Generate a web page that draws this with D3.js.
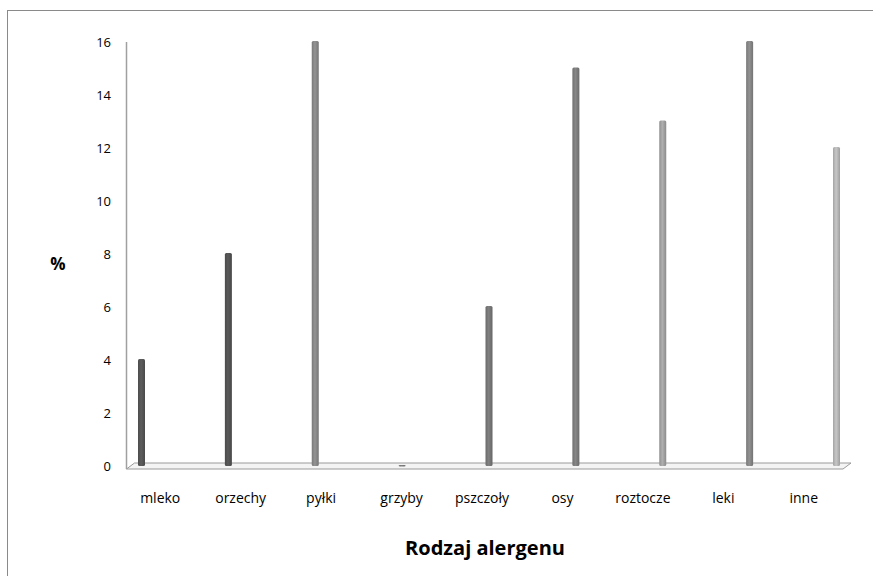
<!DOCTYPE html>
<html>
    <head>
        <title>Rodzaj alergenu</title>
        <meta charset="UTF-8">
        <script type="text/javascript" src="https://cdn.jsdelivr.net/npm/d3@7"></script>
        <style type="text/css">
            body { margin: 0; background: #fff; }
            text { font-family: "Open Sans", "DejaVu Sans", sans-serif; fill: #000; }
        </style>
    </head>
    <body>
        <div id="chart"></div>
        <script type="text/javascript">
            // categories and values (%)
            var categories = ["mleko", "orzechy", "pyłki", "grzyby", "pszczoły", "osy", "roztocze", "leki", "inne"];
            var values = [4, 8, 16, 0, 6, 15, 13, 16, 12];
            var barColors = ["#585858", "#555555", "#8c8c8c", "#7a7a7a", "#7a7a7a", "#808080", "#a6a6a6", "#8a8a8a", "#bdbdbd"];
            var yTicks = [0, 2, 4, 6, 8, 10, 12, 14, 16];

            var svgW = 873, svgH = 576;
            var depthX = 8;     // 3d floor offset

            var svg = d3.select("#chart").append("svg")
                    .attr("width", svgW)
                    .attr("height", svgH);

            // outer frame
            svg.append("rect")
                    .attr("x", 7.5).attr("y", 10.5)
                    .attr("width", 900).attr("height", 600)
                    .attr("fill", "none")
                    .attr("stroke", "#8a8a8a")
                    .attr("stroke-width", 1);

            var y = d3.scaleLinear().domain([0, 16]).range([466, 42]);
            // label band along the front edge
            var xLab = d3.scaleBand().domain(categories).range([120, 844]);
            // bar positions in the back plane
            var xBar = d3.scalePoint().domain(categories).range([141.5, 836.5]);

            // wall line
            svg.append("line")
                    .attr("x1", 126.5).attr("x2", 126.5)
                    .attr("y1", y(16)).attr("y2", y(0) + 3)
                    .attr("stroke", "#a0a0a0").attr("stroke-width", 1.5);

            // floor
            var fl = 126.5, fr = 851, fb = y(0) + 3, ft = y(0) - 3;
            svg.append("polygon")
                    .attr("points", [[fl, fb], [fl + depthX, ft], [fr, ft], [fr - depthX, fb]].map(function (p) {
                        return p.join(",");
                    }).join(" "))
                    .attr("fill", "#f4f4f4")
                    .attr("stroke", "#9a9a9a")
                    .attr("stroke-width", 1);

            // y ticks
            svg.selectAll("text.ytick")
                    .data(yTicks)
                    .enter()
                    .append("text")
                    .attr("class", "ytick")
                    .attr("x", 111)
                    .attr("y", function (d) { return y(d); })
                    .attr("dy", "0.35em")
                    .attr("text-anchor", "end")
                    .style("font-size", "13px")
                    .text(function (d) { return d; });

            // bars as thin cylinders
            var bw = 7;
            var grad = svg.append("defs").selectAll("linearGradient")
                    .data(barColors)
                    .enter()
                    .append("linearGradient")
                    .attr("id", function (d, i) { return "g" + i; })
                    .attr("x1", "0%").attr("x2", "100%");
            grad.append("stop").attr("offset", "0%").attr("stop-color", function (d) { return d3.color(d).darker(0.4); });
            grad.append("stop").attr("offset", "45%").attr("stop-color", function (d) { return d3.color(d).brighter(0.15); });
            grad.append("stop").attr("offset", "100%").attr("stop-color", function (d) { return d3.color(d).darker(0.5); });

            svg.selectAll("rect.bar")
                    .data(values)
                    .enter()
                    .append("rect")
                    .attr("class", "bar")
                    .attr("x", function (d, i) { return xBar(categories[i]) - bw / 2; })
                    .attr("y", function (d) { return y(d) - 1; })
                    .attr("width", bw)
                    .attr("height", function (d) { return Math.max(1.5, y(0) - y(d) + 1); })
                    .attr("rx", 1.5)
                    .attr("fill", function (d, i) { return "url(#g" + i + ")"; });

            // category labels
            svg.selectAll("text.xlab")
                    .data(categories)
                    .enter()
                    .append("text")
                    .attr("class", "xlab")
                    .attr("x", function (d) { return xLab(d) + xLab.bandwidth() / 2; })
                    .attr("y", 503)
                    .attr("text-anchor", "middle")
                    .style("font-size", "14px")
                    .text(function (d) { return d; });

            // axis titles
            svg.append("text")
                    .attr("x", 485).attr("y", 555)
                    .attr("text-anchor", "middle")
                    .style("font-size", "20px")
                    .style("font-weight", "bold")
                    .text("Rodzaj alergenu");

            svg.append("text")
                    .attr("x", 58).attr("y", 270)
                    .attr("text-anchor", "middle")
                    .style("font-size", "17px")
                    .style("font-weight", "bold")
                    .text("%");
        </script>
    </body>
</html>
